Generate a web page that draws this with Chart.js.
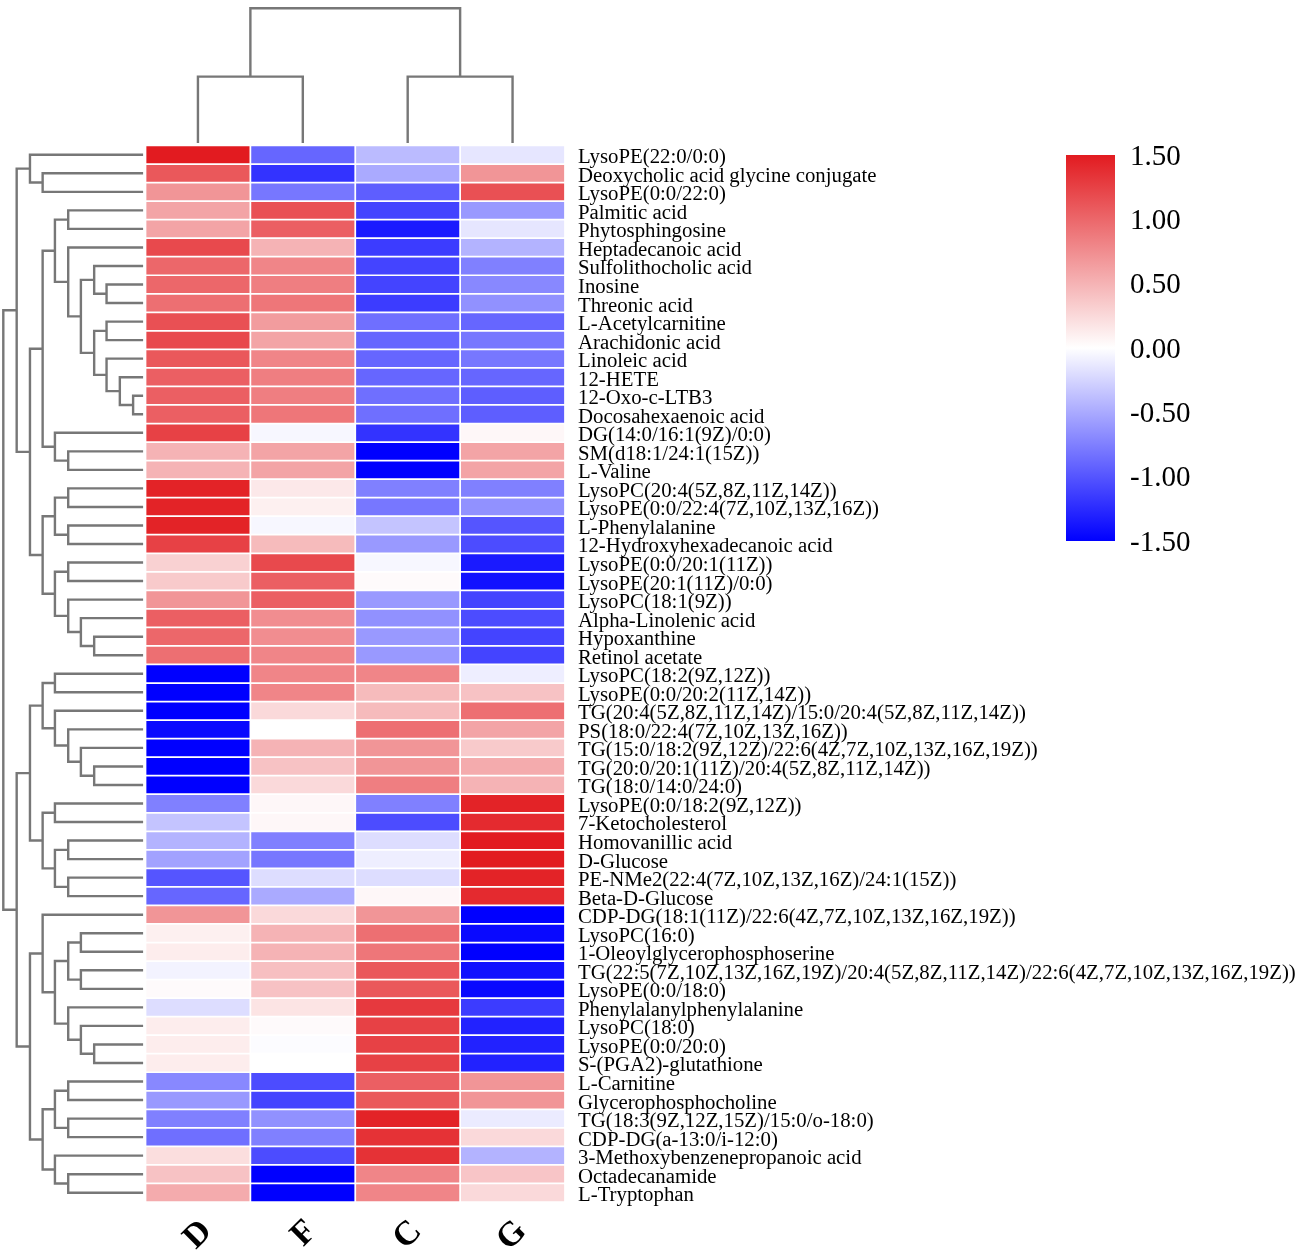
<!DOCTYPE html>
<html>
<head>
<meta charset="utf-8">
<script src="https://cdn.jsdelivr.net/npm/chart.js@4/dist/chart.umd.min.js"></script>
<style>
html,body{margin:0;padding:0;background:#fff;}
#wrap{position:relative;width:1298px;height:1256px;background:#fff;}
canvas{position:absolute;}
</style>
</head>
<body>
<div id="wrap">
<canvas id="heat" width="1298" height="1256" style="left:0;top:0;width:1298px;height:1256px"></canvas>
<canvas id="bar" width="232" height="460" style="left:1066px;top:120px;width:232px;height:460px"></canvas>
</div>
<script>
// ---------------- data ----------------
const rowLabels = [
  "LysoPE(22:0/0:0)",
  "Deoxycholic acid glycine conjugate",
  "LysoPE(0:0/22:0)",
  "Palmitic acid",
  "Phytosphingosine",
  "Heptadecanoic acid",
  "Sulfolithocholic acid",
  "Inosine",
  "Threonic acid",
  "L-Acetylcarnitine",
  "Arachidonic acid",
  "Linoleic acid",
  "12-HETE",
  "12-Oxo-c-LTB3",
  "Docosahexaenoic acid",
  "DG(14:0/16:1(9Z)/0:0)",
  "SM(d18:1/24:1(15Z))",
  "L-Valine",
  "LysoPC(20:4(5Z,8Z,11Z,14Z))",
  "LysoPE(0:0/22:4(7Z,10Z,13Z,16Z))",
  "L-Phenylalanine",
  "12-Hydroxyhexadecanoic acid",
  "LysoPE(0:0/20:1(11Z))",
  "LysoPE(20:1(11Z)/0:0)",
  "LysoPC(18:1(9Z))",
  "Alpha-Linolenic acid",
  "Hypoxanthine",
  "Retinol acetate",
  "LysoPC(18:2(9Z,12Z))",
  "LysoPE(0:0/20:2(11Z,14Z))",
  "TG(20:4(5Z,8Z,11Z,14Z)/15:0/20:4(5Z,8Z,11Z,14Z))",
  "PS(18:0/22:4(7Z,10Z,13Z,16Z))",
  "TG(15:0/18:2(9Z,12Z)/22:6(4Z,7Z,10Z,13Z,16Z,19Z))",
  "TG(20:0/20:1(11Z)/20:4(5Z,8Z,11Z,14Z))",
  "TG(18:0/14:0/24:0)",
  "LysoPE(0:0/18:2(9Z,12Z))",
  "7-Ketocholesterol",
  "Homovanillic acid",
  "D-Glucose",
  "PE-NMe2(22:4(7Z,10Z,13Z,16Z)/24:1(15Z))",
  "Beta-D-Glucose",
  "CDP-DG(18:1(11Z)/22:6(4Z,7Z,10Z,13Z,16Z,19Z))",
  "LysoPC(16:0)",
  "1-Oleoylglycerophosphoserine",
  "TG(22:5(7Z,10Z,13Z,16Z,19Z)/20:4(5Z,8Z,11Z,14Z)/22:6(4Z,7Z,10Z,13Z,16Z,19Z))",
  "LysoPE(0:0/18:0)",
  "Phenylalanylphenylalanine",
  "LysoPC(18:0)",
  "LysoPE(0:0/20:0)",
  "S-(PGA2)-glutathione",
  "L-Carnitine",
  "Glycerophosphocholine",
  "TG(18:3(9Z,12Z,15Z)/15:0/o-18:0)",
  "CDP-DG(a-13:0/i-12:0)",
  "3-Methoxybenzenepropanoic acid",
  "Octadecanamide",
  "L-Tryptophan"
];

const colLabels = ["D", "F", "C", "G"];

const valuesD = [1.5,1.1,0.7,0.6,0.6,1.2,1.0,1.0,0.95,1.15,1.2,1.1,1.05,1.05,1.05,
  1.25,0.5,0.5,1.45,1.45,1.45,1.25,0.3,0.35,0.7,1.05,1.0,0.95,
  -1.5,-1.5,-1.5,-1.45,-1.5,-1.5,-1.5,-0.75,-0.35,-0.45,-0.55,-1.0,-0.9,
  0.7,0.1,0.12,-0.07,0.03,-0.2,0.12,0.12,0.12,-0.7,-0.6,-0.75,-0.85,0.22,0.4,0.55];
const valuesF = [-0.9,-1.2,-0.8,1.15,1.05,0.5,0.8,0.85,0.9,0.65,0.6,0.8,0.85,0.85,0.9,
  -0.05,0.6,0.6,0.15,0.1,-0.05,0.45,1.2,1.05,1.05,0.75,0.75,0.8,
  0.8,0.8,0.25,0.0,0.5,0.4,0.25,0.05,0.05,-0.75,-0.8,-0.2,-0.5,
  0.25,0.5,0.5,0.42,0.4,0.18,0.03,-0.02,0.0,-1.05,-1.1,-0.65,-0.75,-1.05,-1.5,-1.5];
const valuesC = [-0.4,-0.5,-0.95,-1.1,-1.35,-1.15,-1.1,-1.1,-1.15,-0.85,-0.9,-0.9,-0.9,-0.85,-0.85,
  -1.2,-1.5,-1.5,-0.75,-0.8,-0.35,-0.6,-0.05,0.03,-0.6,-0.65,-0.6,-0.6,
  0.8,0.45,0.45,0.95,0.7,0.7,0.85,-0.75,-1.05,-0.2,-0.1,-0.2,0.05,
  0.7,0.95,0.9,1.1,1.1,1.3,1.25,1.25,1.25,1.05,1.1,1.45,1.35,1.35,0.8,0.8];
const valuesG = [-0.15,0.7,1.15,-0.6,-0.15,-0.45,-0.75,-0.7,-0.65,-0.9,-0.8,-0.8,-0.9,-0.95,-0.95,
  0.05,0.6,0.6,-0.75,-0.65,-1.0,-1.05,-1.35,-1.4,-1.1,-1.05,-1.1,-1.1,
  -0.1,0.4,0.95,0.6,0.35,0.55,0.5,1.45,1.4,1.5,1.5,1.45,1.4,
  -1.5,-1.45,-1.5,-1.4,-1.45,-1.15,-1.3,-1.3,-1.3,0.7,0.7,-0.12,0.25,-0.45,0.38,0.25];

const colorTicks = [-1.5, -1.0, -0.5, 0.0, 0.5, 1.0, 1.5];

// row dendrogram: [childA, childB, mergeHeight]; ids >= 57 are earlier merges
const rowMerges = [
  [1,2,100.6],[0,57,113.3],[3,4,75],[7,8,36.6],[6,60,49],[9,10,36.6],[13,14,10],
  [12,63,23.3],[11,64,36.6],[62,65,49],[61,66,62.3],[5,67,75],[59,68,88.3],
  [16,17,75],[15,70,88.3],[69,71,100.6],[18,19,75],[20,21,75],[73,74,88.3],
  [22,23,75],[26,27,49],[25,77,62.3],[24,78,75],[76,79,88.3],[75,80,100.6],
  [72,81,113.3],[58,82,126.6],
  [28,29,88.3],[33,34,49],[32,85,62.3],[31,86,75],[30,87,88.3],[84,88,100.6],
  [35,36,88.3],[37,38,75],[39,40,75],[91,92,88.3],[90,93,100.6],[89,94,113.3],
  [42,43,62.3],[44,45,62.3],[96,97,75],[48,49,49],[47,99,62.3],[46,100,75],
  [98,101,88.3],[41,102,100.6],[50,51,75],[52,53,75],[104,105,88.3],[55,56,75],
  [54,107,88.3],[106,108,100.6],[103,109,113.3],[95,110,126.6],[83,111,140]
];
// column dendrogram
const colMerges = [[0,1,66.6],[2,3,66.6],[4,5,135]];

// ---------------- helpers ----------------
const RED = [226,27,32], WHITE = [255,255,255], BLUE = [0,0,255];
function heatColor(v) {
  const t = Math.max(-1, Math.min(1, v / 1.5));
  const end = t >= 0 ? RED : BLUE;
  const a = Math.abs(t);
  return 'rgb(' + WHITE.map((m, k) => Math.round(m + (end[k] - m) * a)).join(',') + ')';
}

function drawDendro(ctx, merges, leafPos, hToPix, orient) {
  const pos = leafPos.slice();
  const hts = leafPos.map(() => 0);
  merges.forEach(([a, b, h]) => {
    const pa = pos[a], pb = pos[b];
    ctx.beginPath();
    if (orient === 'left') {
      ctx.moveTo(hToPix(hts[a]), pa);
      ctx.lineTo(hToPix(h), pa);
      ctx.lineTo(hToPix(h), pb);
      ctx.lineTo(hToPix(hts[b]), pb);
    } else {
      ctx.moveTo(pa, hToPix(hts[a]));
      ctx.lineTo(pa, hToPix(h));
      ctx.lineTo(pb, hToPix(h));
      ctx.lineTo(pb, hToPix(hts[b]));
    }
    ctx.stroke();
    pos.push((pa + pb) / 2);
    hts.push(h);
  });
}

const dendroPlugin = {
  id: 'dendro',
  afterDraw(chart) {
    const ctx = chart.ctx;
    const area = chart.chartArea;
    const ys = chart.scales.y, xs = chart.scales.x;
    ctx.save();
    ctx.strokeStyle = '#777777';
    ctx.lineWidth = 2.4;
    ctx.lineCap = 'butt';
    ctx.lineJoin = 'miter';
    const leafX = area.left - 2.4;
    const rowPos = rowLabels.map((_, i) => ys.getPixelForValue(i));
    drawDendro(ctx, rowMerges, rowPos, h => leafX - h * (leafX - 3.3) / 140, 'left');
    const leafY = area.top - 2.4;
    const colPos = colLabels.map((_, j) => xs.getPixelForValue(j + 0.5));
    drawDendro(ctx, colMerges, colPos, h => leafY - h * (leafY - 8.3) / 135, 'top');
    ctx.restore();
  }
};

// ---------------- heatmap ----------------
const colValues = [valuesD, valuesF, valuesC, valuesG];
const datasets = colLabels.map((c, j) => ({
  label: c,
  data: rowLabels.map(() => [j, j + 1]),
  backgroundColor: colValues[j].map(heatColor),
  borderColor: '#ffffff',
  borderWidth: 1.2,
  borderSkipped: false,
  barPercentage: 1,
  categoryPercentage: 1,
  grouped: false
}));

new Chart(document.getElementById('heat'), {
  type: 'bar',
  data: { labels: rowLabels, datasets },
  options: {
    indexAxis: 'y',
    responsive: false,
    animation: false,
    devicePixelRatio: 1,
    layout: { padding: { left: 145.5, top: 145.5, right: 0, bottom: 0 } },
    plugins: { legend: { display: false }, tooltip: { enabled: false } },
    scales: {
      x: {
        type: 'linear', min: 0, max: 4, position: 'bottom',
        grid: { display: false, drawTicks: false },
        border: { display: false },
        afterBuildTicks: s => { s.ticks = colLabels.map((c, j) => ({ value: j + 0.5 })); },
        afterFit: s => { s.height = 54; },
        ticks: {
          autoSkip: false, minRotation: 45, maxRotation: 45,
          callback: (v, i) => colLabels[i],
          font: { family: 'Liberation Serif', size: 34, weight: 'bold' },
          color: '#000', padding: 10, labelOffset: 9
        }
      },
      y: {
        type: 'category', position: 'right', offset: true,
        grid: { display: false, drawTicks: false },
        border: { display: false },
        afterFit: s => { s.width = 733; },
        ticks: {
          autoSkip: false,
          font: { family: 'Liberation Serif', size: 20.8 },
          color: '#000', padding: 13, labelOffset: 3
        }
      }
    }
  },
  plugins: [dendroPlugin]
});

// ---------------- colour bar ----------------
new Chart(document.getElementById('bar'), {
  type: 'bar',
  data: {
    labels: [''],
    datasets: [{
      data: [[colorTicks[0], colorTicks[colorTicks.length - 1]]],
      backgroundColor: c => {
        const ca = c.chart.chartArea;
        if (!ca) return '#ffffff';
        const g = c.chart.ctx.createLinearGradient(0, ca.bottom, 0, ca.top);
        g.addColorStop(0, 'rgb(0,0,255)');
        g.addColorStop(0.5, 'rgb(255,255,255)');
        g.addColorStop(1, 'rgb(226,27,32)');
        return g;
      },
      borderWidth: 0,
      barPercentage: 1,
      categoryPercentage: 1
    }]
  },
  options: {
    responsive: false,
    animation: false,
    devicePixelRatio: 1,
    layout: { padding: { left: 0, top: 35, bottom: 39, right: 0 } },
    plugins: { legend: { display: false }, tooltip: { enabled: false } },
    scales: {
      x: { display: false },
      y: {
        position: 'right',
        min: colorTicks[0], max: colorTicks[colorTicks.length - 1],
        grid: { display: false, drawTicks: false },
        border: { display: false },
        afterBuildTicks: s => { s.ticks = colorTicks.map(v => ({ value: v })); },
        afterFit: s => { s.width = 183; },
        ticks: {
          callback: v => Number(v).toFixed(2),
          font: { family: 'Liberation Serif', size: 29 },
          color: '#000', padding: 15, labelOffset: 2
        }
      }
    }
  }
});
</script>
</body>
</html>
